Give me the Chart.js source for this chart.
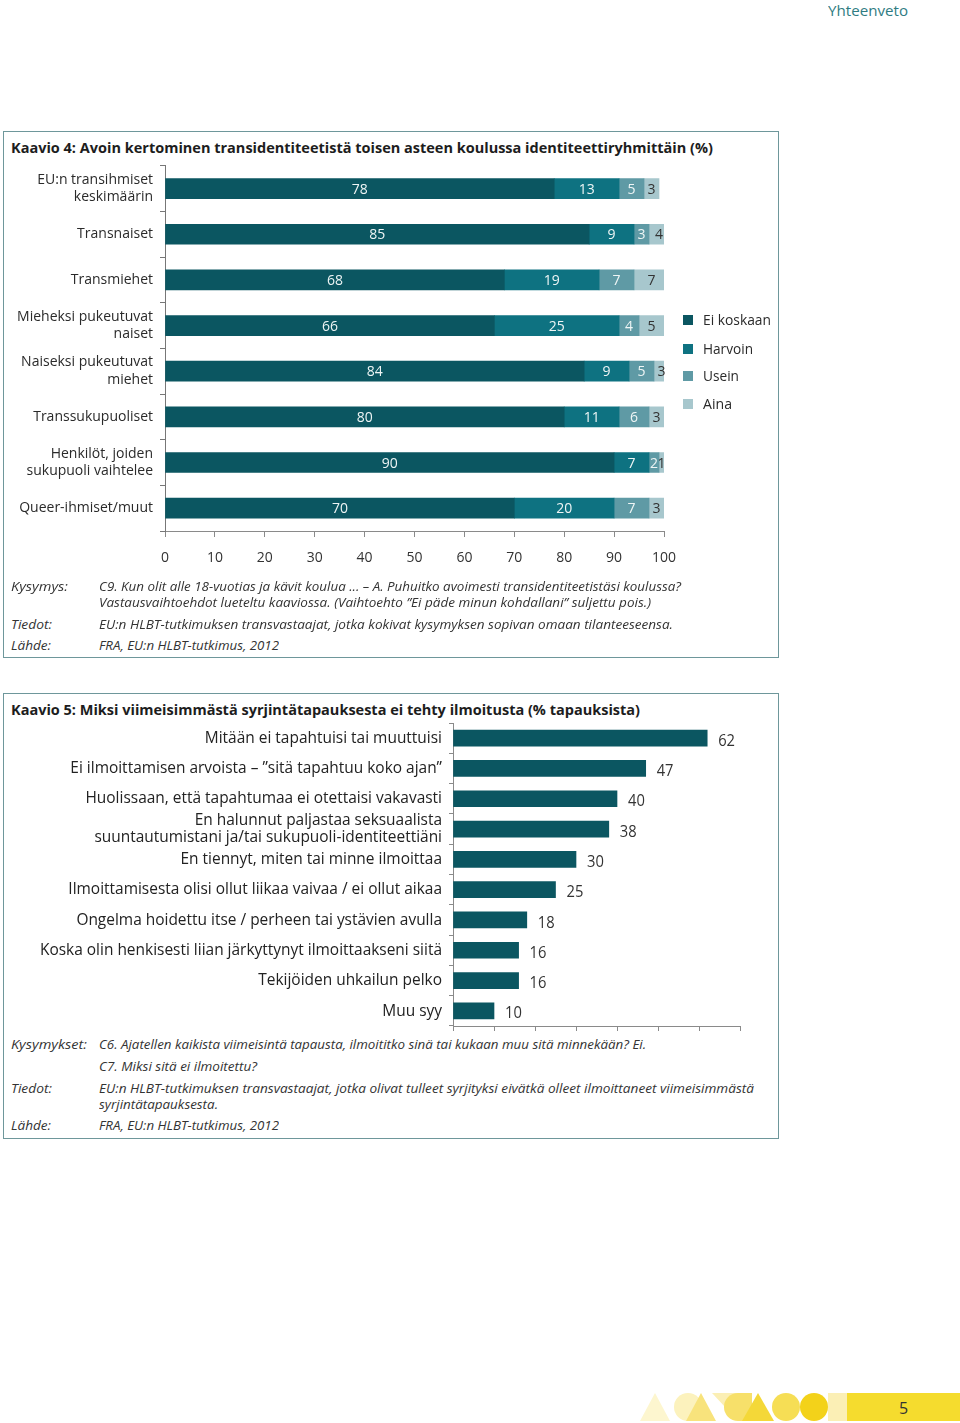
<!DOCTYPE html>
<html><head><meta charset="utf-8">
<script src="https://cdn.jsdelivr.net/npm/chart.js@4.4.0/dist/chart.umd.min.js"></script>
<style>
html,body{margin:0;padding:0;background:#fff;}
body{width:960px;height:1423px;position:relative;overflow:hidden;font-family:"Open Sans",sans-serif;color:#2a2a2a;}
.t{position:absolute;white-space:nowrap;line-height:18px;height:18px;display:inline-block;}
.box{position:absolute;border:1.5px solid #6e979b;box-sizing:border-box;}
.title{font-weight:700;font-size:15px;color:#1d1d1d;}
.note{font-style:italic;font-size:13px;color:#333;}
.leg{font-size:14.5px;color:#2a2a2a;}
.sq{position:absolute;width:10px;height:10px;}
canvas{position:absolute;}
.shape{position:absolute;}
</style></head>
<body>
<div class="t" style="left:828px;top:1px;font-size:15px;color:#2f7c82" data-w="80">Yhteenveto</div>

<div class="box" style="left:3px;top:131px;width:776px;height:527px"></div>
<div class="t title" style="left:11px;top:138px" data-w="702">Kaavio 4: Avoin kertominen transidentiteetistä toisen asteen koulussa identiteettiryhmittäin (%)</div>

<div class="box" style="left:3px;top:693px;width:776px;height:446px"></div>
<div class="t title" style="left:11px;top:700px" data-w="629">Kaavio 5: Miksi viimeisimmästä syrjintätapauksesta ei tehty ilmoitusta (% tapauksista)</div>

<canvas id="c1" width="690" height="431" style="left:0;top:150px"></canvas>
<canvas id="c2" width="780" height="317" style="left:0;top:715px"></canvas>

<div id="legend"></div>

<div class="t note" style="left:11px;top:577px" data-w="57">Kysymys:</div>
<div class="t note" style="left:99px;top:577px" data-w="582">C9. Kun olit alle 18-vuotias ja kävit koulua ... – A. Puhuitko avoimesti transidentiteetistäsi koulussa?</div>
<div class="t note" style="left:99px;top:593px" data-w="552">Vastausvaihtoehdot lueteltu kaaviossa. (Vaihtoehto ”Ei päde minun kohdallani” suljettu pois.)</div>
<div class="t note" style="left:11px;top:615px" data-w="41">Tiedot:</div>
<div class="t note" style="left:99px;top:615px" data-w="574">EU:n HLBT-tutkimuksen transvastaajat, jotka kokivat kysymyksen sopivan omaan tilanteeseensa.</div>
<div class="t note" style="left:11px;top:636px" data-w="40">Lähde:</div>
<div class="t note" style="left:99px;top:636px" data-w="180">FRA, EU:n HLBT-tutkimus, 2012</div>

<div class="t note" style="left:11px;top:1035px" data-w="76">Kysymykset:</div>
<div class="t note" style="left:99px;top:1035px" data-w="547">C6. Ajatellen kaikista viimeisintä tapausta, ilmoititko sinä tai kukaan muu sitä minnekään? Ei.</div>
<div class="t note" style="left:99px;top:1057px" data-w="158">C7. Miksi sitä ei ilmoitettu?</div>
<div class="t note" style="left:11px;top:1079px" data-w="41">Tiedot:</div>
<div class="t note" style="left:99px;top:1079px" data-w="655">EU:n HLBT-tutkimuksen transvastaajat, jotka olivat tulleet syrjityksi eivätkä olleet ilmoittaneet viimeisimmästä</div>
<div class="t note" style="left:99px;top:1095px" data-w="119">syrjintätapauksesta.</div>
<div class="t note" style="left:11px;top:1116px" data-w="40">Lähde:</div>
<div class="t note" style="left:99px;top:1116px" data-w="180">FRA, EU:n HLBT-tutkimus, 2012</div>

<!-- footer decoration -->
<div class="shape" style="left:640px;top:1393px;width:30px;height:28px;background:#fdf6cf;clip-path:polygon(50% 0,100% 100%,0 100%)"></div>
<div class="shape" style="left:674px;top:1393px;width:28px;height:28px;background:#fcf2bd;border-radius:50%"></div>
<div class="shape" style="left:686px;top:1393px;width:30px;height:28px;background:#f8e37c;clip-path:polygon(50% 0,100% 100%,0 100%)"></div>
<div class="shape" style="left:712px;top:1393px;width:26px;height:28px;background:#fbefb5;clip-path:polygon(0 0,100% 0,100% 100%)"></div>
<div class="shape" style="left:724px;top:1393px;width:28px;height:28px;background:#f7e06a;border-radius:50% 0 0 50%"></div>
<div class="shape" style="left:742px;top:1393px;width:32px;height:28px;background:#f4d838;clip-path:polygon(50% 0,100% 100%,0 100%)"></div>
<div class="shape" style="left:772px;top:1393px;width:28px;height:28px;background:#f6de55;border-radius:50%"></div>
<div class="shape" style="left:800px;top:1393px;width:28px;height:28px;background:#f3d21a;border-radius:50%"></div>
<div class="shape" style="left:828px;top:1393px;width:19px;height:28px;background:#fbefb5"></div>
<div class="shape" style="left:847px;top:1393px;width:113px;height:28px;background:#f5dc2e"></div>
<div class="t" style="left:899px;top:1399px;font-size:16px;color:#333">5</div>

<script>
// ---------- DATA ----------
const groups = [['EU:n transihmiset','keskimäärin'],'Transnaiset','Transmiehet',['Mieheksi pukeutuvat','naiset'],['Naiseksi pukeutuvat','miehet'],'Transsukupuoliset',['Henkilöt, joiden','sukupuoli vaihtelee'],'Queer-ihmiset/muut'];
const seriesNames = ['Ei koskaan','Harvoin','Usein','Aina'];
const eiKoskaan = [78,85,68,66,84,80,90,70];
const harvoin   = [13, 9,19,25, 9,11, 7,20];
const usein     = [ 5, 3, 7, 4, 5, 6, 2, 7];
const aina      = [ 3, 4, 7, 5, 3, 3, 1, 3];
const xMax1 = 100, xStep1 = 10;

const reasons = ['Mitään ei tapahtuisi tai muuttuisi','Ei ilmoittamisen arvoista – ”sitä tapahtuu koko ajan”','Huolissaan, että tapahtumaa ei otettaisi vakavasti',['En halunnut paljastaa seksuaalista','suuntautumistani ja/tai sukupuoli-identiteettiäni'],'En tiennyt, miten tai minne ilmoittaa','Ilmoittamisesta olisi ollut liikaa vaivaa / ei ollut aikaa','Ongelma hoidettu itse / perheen tai ystävien avulla','Koska olin henkisesti liian järkyttynyt ilmoittaakseni siitä','Tekijöiden uhkailun pelko','Muu syy'];
const reasonValues = [62,47,40,38,30,25,18,16,16,10];
const xMax2 = 70, xStep2 = 10;

// ---------- STYLE ----------
const colors1 = ['#0b5661','#0e7281','#5f9aa5','#a7c7cd'];
const labelColors1 = ['#eef5f5','#eef5f5','#eef5f5','#333'];
const bar2Color = '#0b5661';
const axisColor = '#8a8a8a';

// legend (HTML)
const legY = [320,349,376,404];
const legW = [68,50,36,29];
const lg = document.getElementById('legend');
seriesNames.forEach((n,i)=>{
  const s=document.createElement('div'); s.className='sq'; s.style.left='683px'; s.style.top=(legY[i]-5)+'px'; s.style.background=colors1[i]; lg.appendChild(s);
  const t=document.createElement('div'); t.className='t leg'; t.style.left='703px'; t.style.top=(legY[i]-9)+'px'; t.textContent=n; t.dataset.w=legW[i]; lg.appendChild(t);
});

const segLabels = {id:'segLabels', afterDatasetsDraw(chart){
  const ctx=chart.ctx; ctx.save();
  ctx.font='14px "Open Sans"'; ctx.textAlign='center'; ctx.textBaseline='middle';
  chart.data.datasets.forEach((ds,di)=>{
    chart.getDatasetMeta(di).data.forEach((bar,i)=>{
      ctx.fillStyle=labelColors1[di];
      ctx.fillText(String(ds.data[i]),(bar.x+bar.base)/2,bar.y+1);
    });
  });
  ctx.restore();
}};

new Chart(document.getElementById('c1'),{
  type:'bar',
  data:{labels:groups,datasets:[eiKoskaan,harvoin,usein,aina].map((d,i)=>({label:seriesNames[i],data:d,backgroundColor:colors1[i],barThickness:20,borderWidth:0}))},
  options:{
    indexAxis:'y',responsive:false,animation:false,devicePixelRatio:1,
    layout:{padding:{top:6,right:26,left:0,bottom:0}},
    plugins:{legend:{display:false},tooltip:{enabled:false}},
    scales:{
      x:{stacked:true,min:0,max:xMax1,ticks:{stepSize:xStep1,color:'#333',font:{family:'Open Sans',size:14},padding:13,maxRotation:0},
         grid:{drawOnChartArea:false,drawTicks:true,tickLength:6,color:axisColor},border:{display:true,color:axisColor},
         afterFit(s){s.height=50;}},
      y:{stacked:true,ticks:{color:'#2a2a2a',font:{family:'Open Sans',size:14,lineHeight:1.25},padding:7},
         grid:{drawOnChartArea:false,tickLength:5,color:'#777',offset:true},border:{display:true,color:'#777'},
         afterFit(s){s.width=165;}}
    }
  },
  plugins:[segLabels]
});

const labels2 = {id:'labels2', afterDraw(chart){
  const ctx=chart.ctx, ys=chart.scales.y; ctx.save();
  ctx.font='16.5px "Open Sans"'; ctx.fillStyle='#222'; ctx.textBaseline='middle';
  const longest='Koska olin henkisesti liian järkyttynyt ilmoittaakseni siitä';
  const sx=402/ctx.measureText(longest).width;
  chart.data.labels.forEach((lab,i)=>{
    const y=ys.getPixelForValue(i); const lines=Array.isArray(lab)?lab:[lab];
    lines.forEach((ln,k)=>{
      const yy=y+(k-(lines.length-1)/2)*17;
      ctx.save(); ctx.translate(442,yy); ctx.scale(sx,1); ctx.textAlign='right'; ctx.fillText(ln,0,0); ctx.restore();
    });
  });
  ctx.font='16px "Open Sans"'; ctx.fillStyle='#333'; ctx.textAlign='left';
  chart.getDatasetMeta(0).data.forEach((bar,i)=>{
    ctx.save(); ctx.translate(bar.x+11,bar.y+3); ctx.scale(0.92,1); ctx.fillText(String(chart.data.datasets[0].data[i]),0,0); ctx.restore();
  });
  ctx.restore();
}};

new Chart(document.getElementById('c2'),{
  type:'bar',
  data:{labels:reasons,datasets:[{data:reasonValues,backgroundColor:bar2Color,barThickness:16,borderWidth:0}]},
  options:{
    indexAxis:'y',responsive:false,animation:false,devicePixelRatio:1,
    layout:{padding:{top:8,right:40,left:0,bottom:0}},
    plugins:{legend:{display:false},tooltip:{enabled:false}},
    scales:{
      x:{min:0,max:xMax2,ticks:{stepSize:xStep2,display:false},grid:{drawOnChartArea:false,tickLength:5,color:axisColor},border:{display:true,color:axisColor},afterFit(s){s.height=6;}},
      y:{ticks:{display:false},grid:{drawOnChartArea:false,tickLength:4,color:axisColor,offset:true},border:{display:true,color:axisColor},afterFit(s){s.width=453;}}
    }
  },
  plugins:[labels2]
});

// fit HTML text widths
document.querySelectorAll('[data-w]').forEach(el=>{
  const w=el.getBoundingClientRect().width; const tw=+el.dataset.w;
  el.style.transformOrigin='left center'; el.style.transform='scaleX('+(tw/w)+')';
});
</script>
</body></html>
